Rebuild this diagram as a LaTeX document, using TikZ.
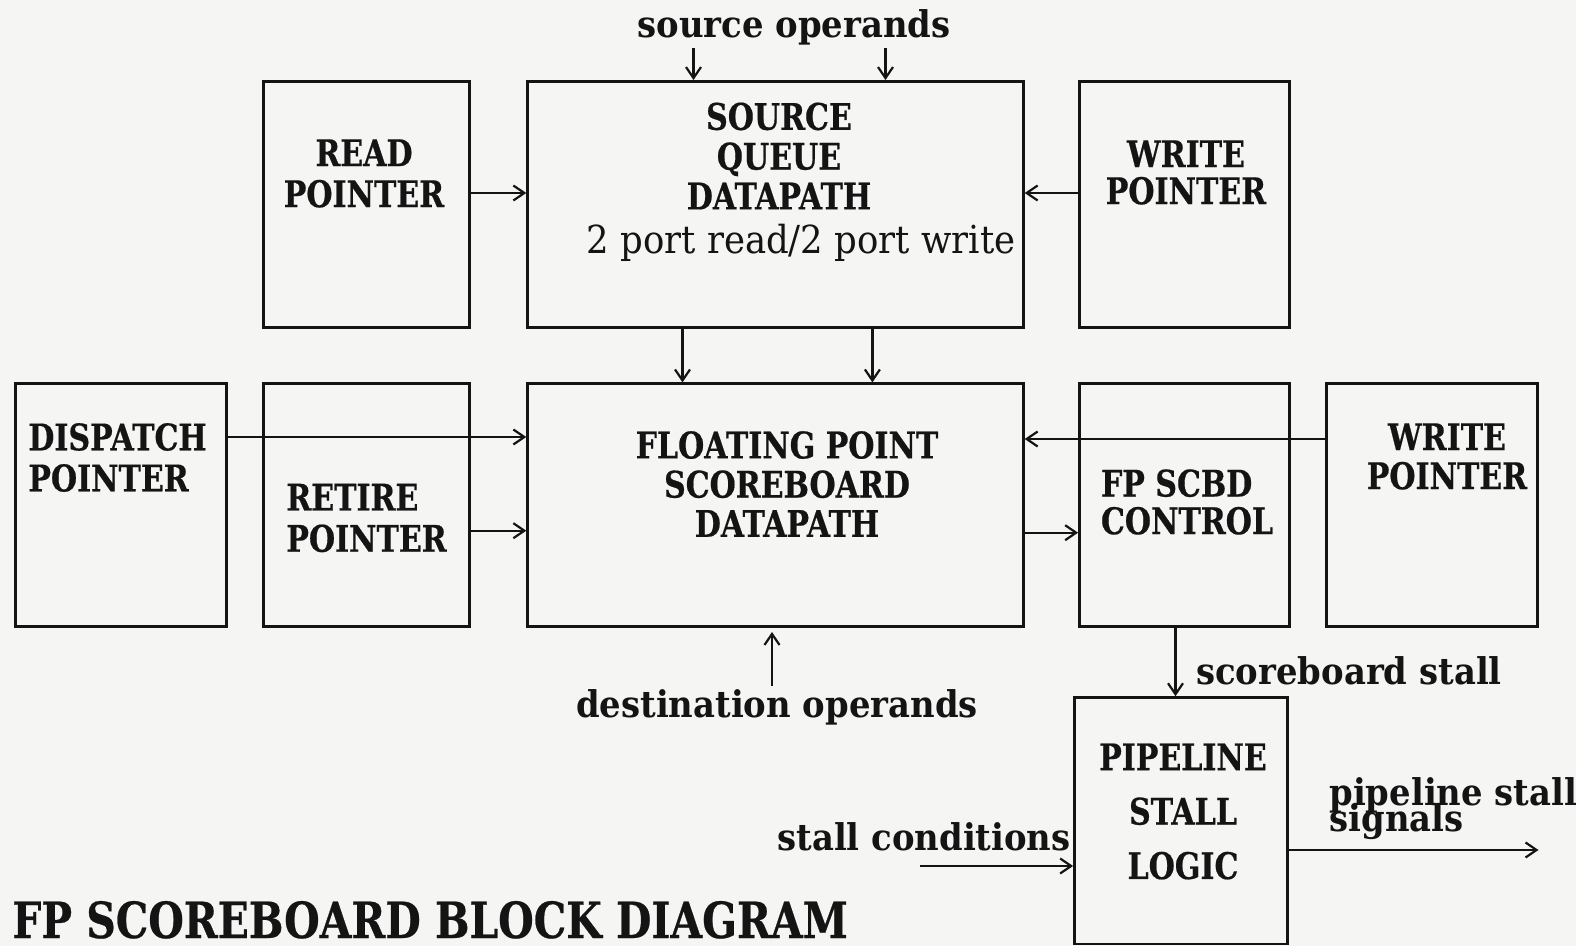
\documentclass[tikz,border=0pt]{standalone}
\usepackage{fontspec}
\setmainfont{DejaVu Serif}
\newfontfamily\slab[FakeStretch=0.92]{DejaVu Serif}
\newfontfamily\slabcap[FakeStretch=0.82,FakeBold=0.5]{DejaVu Serif}
\usetikzlibrary{arrows.meta}
\definecolor{bg}{RGB}{245,245,243}
\definecolor{ink}{RGB}{20,20,20}
\newcommand\tightlines{\lineskiplimit=-50pt\relax}
\begin{document}
\begin{tikzpicture}[x=0.5pt,y=-0.5pt,
  box/.style={draw=ink, line width=1.4pt, inner sep=0pt},
  capt/.style={text=ink, font=\slabcap\bfseries\fontsize{18.3}{#1}\selectfont, align=center, inner sep=0pt},
  capt/.default=20,
  lab/.style={text=ink, font=\slab\bfseries\fontsize{18.4}{22}\selectfont, inner sep=0pt},
  arr/.style={draw=ink, line width=1.1pt, -{Straight Barb[length=5.5pt,width=7.5pt]}}]
\fill[bg] (0,0) rectangle (1576,946);
\useasboundingbox (0,0) rectangle (1576,946);

% boxes
\node[box, minimum width=103pt,   minimum height=123.2pt] (read) at (366.4,204.6) {};
\node[box, minimum width=247.8pt, minimum height=123.2pt] (sq)   at (775.5,204.6) {};
\node[box, minimum width=105pt,   minimum height=123.2pt] (wp1)  at (1184.5,204.6) {};
\node[box, minimum width=105.5pt, minimum height=121.2pt] (disp) at (120.6,505) {};
\node[box, minimum width=103pt,   minimum height=121.2pt] (ret)  at (366.4,505) {};
\node[box, minimum width=247.8pt, minimum height=121.2pt] (fps)  at (775.5,505) {};
\node[box, minimum width=105pt,   minimum height=121.2pt] (ctrl) at (1184.5,505) {};
\node[box, minimum width=105.5pt, minimum height=121.2pt] (wp2)  at (1432.3,505) {};
\node[box, minimum width=106.5pt, minimum height=123.2pt] (psl)  at (1181,820.8) {};

% box texts
\node[capt=20.5] (readt) at (364,173.5) {READ\\POINTER};
\node[capt=19.9] (sqt) at (779,156) {SOURCE\\QUEUE\\DATAPATH};
\node[text=ink, font=\slab\fontsize{19.3}{22}\selectfont, inner sep=0pt] (sqport) at (801,243) {2 port read/2 port write};
\node[capt=18.5] (wp1t) at (1186,172.5) {WRITE\\POINTER};
\node[capt=20.5, align=left, anchor=west] (dispt) at (28,457.5) {DISPATCH\\POINTER};
\node[capt=20.6, align=left, anchor=west] (rett) at (286,518) {RETIRE\\POINTER};
\node[capt=19.6] (fpst) at (787,484) {FLOATING POINT\\SCOREBOARD\\DATAPATH};
\node[capt=18.8, align=left] (ctrlt) at (1187,502) {FP SCBD\\CONTROL};
\node[capt=19.5] (wp2t) at (1447,456.5) {WRITE\\POINTER};
\node[capt=27.2] (pslt) at (1183,811.5) {PIPELINE\\STALL\\LOGIC};

% labels
\node[lab] (srcop) at (794,27) {source operands};
\node[lab] (dstop) at (777,707) {destination operands};
\node[lab] (sbst) at (1349,671) {scoreboard stall};
\node[lab] (stc) at (924,837) {stall conditions};
\node[lab, align=left, anchor=north west, font=\slab\bfseries\fontsize{18.4}{13}\selectfont\tightlines] (pss) at (1329,777) {pipeline stall\\signals};
\node[text=ink, font=\slabcap\bfseries\fontsize{24.9}{28}\selectfont, inner sep=0pt, anchor=base west] (title) at (12,938) {FP SCOREBOARD BLOCK DIAGRAM};

% helper coordinates
\coordinate (so1) at (693.5,48);
\coordinate (so2) at (885.5,48);
\coordinate (yA) at (0,193);
\coordinate (x1) at (682.5,0);
\coordinate (x2) at (872.4,0);
\coordinate (yB) at (0,437);
\coordinate (yC) at (0,530.7);
\coordinate (yD) at (0,439);
\coordinate (yE) at (0,532.7);
\coordinate (dtail) at (772,686);
\coordinate (dtip) at (772,632);
\coordinate (xF) at (1175.5,0);
\coordinate (sctail) at (919.7,866);
\coordinate (yG) at (0,850);
\coordinate (pstip) at (1538.5,850);

% connectors
\draw[arr] (so1) -- (so1 |- sq.north);
\draw[arr] (so2) -- (so2 |- sq.north);
\draw[arr] (read.east |- yA) -- (sq.west |- yA);
\draw[arr] (wp1.west |- yA) -- (sq.east |- yA);
\draw[arr] (sq.south -| x1) -- (fps.north -| x1);
\draw[arr] (sq.south -| x2) -- (fps.north -| x2);
\draw[arr] (disp.east |- yB) -- (fps.west |- yB);
\draw[arr] (ret.east |- yC) -- (fps.west |- yC);
\draw[arr] (wp2.west |- yD) -- (fps.east |- yD);
\draw[arr] (fps.east |- yE) -- (ctrl.west |- yE);
\draw[arr] (dtail) -- (dtip);
\draw[arr] (ctrl.south -| xF) -- (psl.north -| xF);
\draw[arr] (sctail) -- (psl.west |- sctail);
\draw[arr] (psl.east |- yG) -- (pstip);
\end{tikzpicture}
\end{document}
